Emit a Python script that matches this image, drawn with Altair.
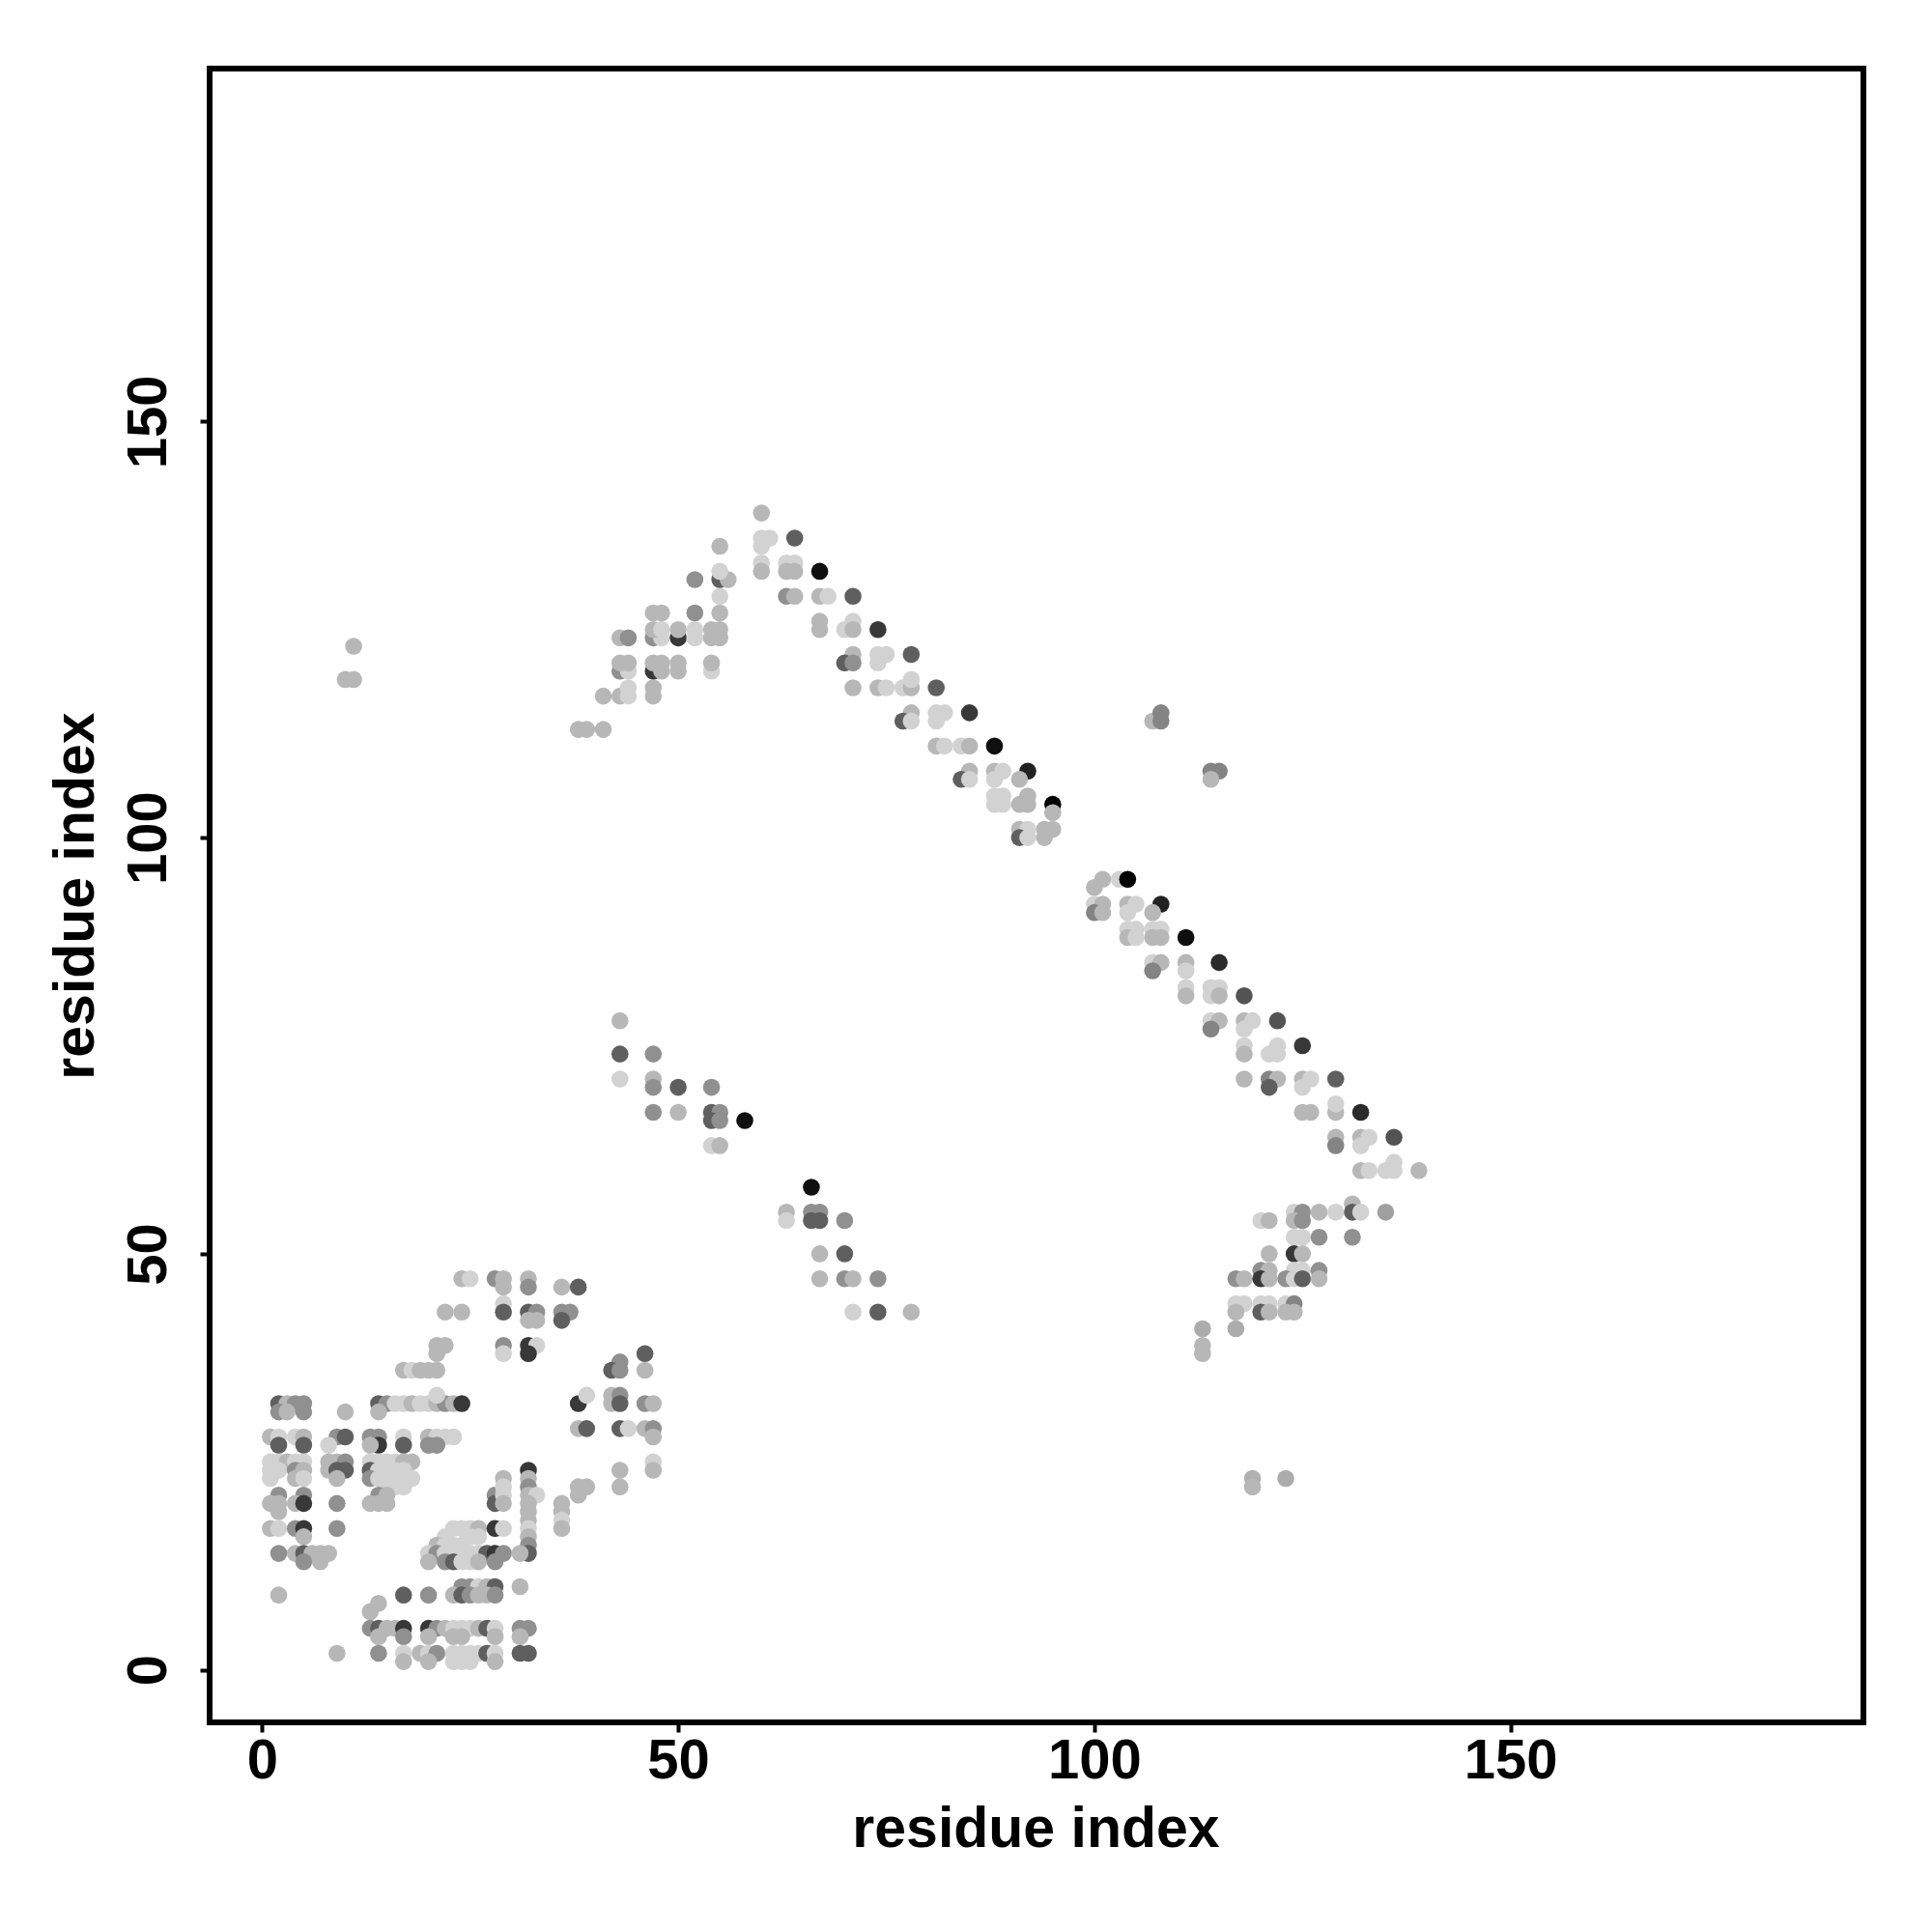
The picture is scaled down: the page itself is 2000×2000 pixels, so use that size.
import altair as alt
import pandas as pd

# contact map: (residue i, residue j, contact score)
block_n_term_a = [
    (2,32,.54),(3,32,.15),(4,32,.32),(5,32,.32),(14,32,.54),(15,32,.32),(16,32,.04),(17,32,.04),
    (18,32,.15),(19,32,.04),(20,32,.04),(21,32,.15),(22,32,.32),(23,32,.15),(24,32,.73),(21,33,.04),
    (2,31,.32),(3,31,.15),(5,31,.32),(10,31,.15),(14,31,.15),
    (1,28,.15),(2,28,.04),(4,28,.04),(5,28,.15),(9,28,.32),(10,28,.54),(13,28,.32),(14,28,.32),
    (17,28,.04),(20,28,.15),(21,28,.04),(22,28,.04),(23,28,.04),
    (2,27,.54),(5,27,.54),(8,27,.04),(14,27,.73),(13,27,.15),(17,27,.54),(20,27,.32),(21,27,.32),
    (1,25,.04),(2,25,.04),(3,25,.15),(4,25,.04),(5,25,.04),(8,25,.15),(9,25,.15),(10,25,.32),
    (13,25,.04),(14,25,.04),(15,25,.04),(16,25,.04),(17,25,.15),(18,25,.15),
    (1,24,.04),(2,24,.04),(4,24,.32),(5,24,.15),(8,24,.15),(9,24,.54),(10,24,.54),(13,24,.54),
    (14,24,.04),(15,24,.04),(16,24,.04),(17,24,.04),
    (1,23,.04),(4,23,.15),(5,23,.04),(9,23,.15),(13,23,.32),(14,23,.04),(15,23,.04),(16,23,.04),
    (17,23,.04),(18,23,.04),(15,22,.04),(16,22,.04),(17,22,.04),
    (2,21,.32),(5,21,.32),(14,21,.32),(15,21,.15),
    (1,20,.15),(2,20,.15),(4,20,.15),(5,20,.73),(9,20,.32),(13,20,.15),(14,20,.15),(15,20,.15),
    (2,19,.15),(1,17,.15),(2,17,.04),(4,17,.32),(5,17,.73),(9,17,.32),(5,16,.15),
    (2,14,.32),(4,14,.15),(5,14,.54),(6,14,.15),(7,14,.15),(8,14,.15),(5,13,.32),(7,13,.15),
    (2,9,.15),
]

block_n_term_b = [
    (28,21,.32),(28,20,.54),(29,23,.15),(29,22,.04),(29,21,.04),(29,20,.15),
    (32,24,.73),(32,23,.15),(32,22,.32),(32,21,.15),(33,21,.04),(32,20,.15),(32,19,.15),
    (32,18,.15),(32,17,.04),(32,16,.15),(32,15,.32),(32,14,.54),
    (36,20,.15),(36,19,.15),(36,18,.04),(36,17,.15),(38,21,.15),(38,22,.15),(39,22,.15),
    (22,16,.04),(23,17,.04),(24,17,.04),(25,17,.04),(26,17,.15),(28,17,.73),(29,17,.04),
    (21,15,.15),(22,15,.04),(23,15,.04),(24,15,.04),(25,16,.04),(26,16,.04),
    (20,14,.04),(21,14,.32),(22,14,.04),(23,14,.04),(24,14,.04),(25,14,.04),(26,14,.04),
    (27,14,.54),(28,14,.73),(29,14,.32),(31,14,.15),
    (20,13,.15),(22,13,.32),(23,13,.54),(24,13,.04),(25,13,.04),(26,13,.15),(28,13,.32),
    (24,10,.32),(25,10,.32),(26,10,.04),(27,10,.15),(28,10,.54),(31,10,.15),
    (17,9,.54),(20,9,.32),(23,9,.15),(24,9,.54),(25,9,.32),(26,9,.15),(27,9,.15),(28,9,.32),
    (13,7,.15),(14,8,.15),
    (13,5,.32),(14,5,.54),(15,5,.15),(16,5,.15),(17,5,.73),(20,5,.73),(21,5,.32),(22,5,.15),
    (23,5,.04),(24,5,.04),(25,5,.04),(26,5,.15),(27,5,.54),(28,5,.04),(31,5,.32),(32,5,.32),
    (14,4,.15),(17,4,.32),(20,4,.15),(23,4,.15),(24,4,.15),(28,4,.15),(31,4,.15),
    (9,2,.15),(14,2,.32),(17,2,.04),(19,2,.15),(20,2,.04),(21,2,.32),(23,2,.04),(24,2,.04),
    (25,2,.04),(26,2,.04),(27,2,.54),(28,2,.04),(31,2,.54),(32,2,.54),
    (17,1,.15),(20,1,.15),(23,1,.04),(24,1,.04),(25,1,.04),(28,1,.15),
]

block_n_term_c = [
    (24,47,.15),(25,47,.04),(28,47,.32),(29,47,.15),(32,47,.15),
    (29,46,.15),(32,46,.32),(36,46,.15),(38,46,.54),(29,44,.04),
    (22,43,.15),(24,43,.15),(29,43,.54),(32,43,.54),(33,43,.32),(36,43,.32),(37,43,.32),
    (32,42,.15),(33,42,.15),(36,42,.54),
    (21,39,.15),(22,39,.15),(29,39,.32),(32,39,.73),(33,39,.04),
    (21,38,.15),(29,38,.04),(32,38,.73),
    (17,36,.15),(18,36,.04),(19,36,.15),(20,36,.15),(21,36,.15),
    (46,38,.54),(43,37,.32),(42,36,.54),(43,36,.32),(46,36,.15),
    (38,32,.73),(39,33,.04),(42,33,.15),(42,32,.15),(43,33,.32),(43,32,.54),(46,32,.32),(47,32,.15),
    (38,29,.15),(39,29,.54),(43,29,.54),(44,29,.04),(46,29,.15),(47,29,.32),(47,28,.15),
    (47,25,.04),(43,24,.15),(47,24,.15),(43,22,.15),
]

block_middle = [
    (43,78,.15),(43,74,.54),(47,74,.32),(43,71,.04),(47,71,.15),
    (47,70,.32),(50,70,.54),(54,70,.32),
    (47,67,.32),(50,67,.15),(54,67,.54),(55,67,.32),(54,66,.54),(55,66,.32),(58,66,.95),
    (54,63,.04),(55,63,.15),
    (66,58,.95),(63,55,.15),(66,55,.32),(67,55,.32),(63,54,.04),(66,54,.54),(67,54,.54),(70,54,.32),
    (67,50,.15),(70,50,.54),(67,47,.15),(70,47,.32),(71,47,.15),(74,47,.32),
    (71,43,.04),(74,43,.54),(78,43,.15),
]

block_upper_arm = [
    (38,113,.15),(39,113,.15),(41,113,.15),
    (41,117,.15),(43,117,.15),(44,117,.04),(47,117,.15),(44,118,.04),(47,118,.15),
    (43,120,.32),(44,120,.04),(47,120,.73),(48,120,.15),(50,120,.15),(54,120,.04),
    (43,121,.15),(44,121,.15),(47,121,.15),(48,121,.15),(50,121,.15),(54,121,.15),
    (43,124,.15),(44,124,.32),(47,124,.32),(48,124,.04),(50,124,.73),(52,124,.04),(54,124,.15),(55,124,.15),
    (47,125,.15),(48,125,.04),(50,125,.15),(52,125,.04),(54,125,.15),(55,125,.15),
    (47,127,.15),(48,127,.15),(52,127,.32),(55,127,.15),(55,129,.04),
    (52,131,.32),(55,131,.54),(56,131,.15),(55,132,.04),(55,135,.15),
    (60,139,.15),(60,136,.04),(61,136,.04),(64,136,.54),(60,135,.04),
    (60,133,.04),(63,133,.04),(64,133,.04),(60,132,.15),(63,132,.15),(64,132,.15),
    (11,123,.15),(10,119,.15),(11,119,.15),
]

block_diag_upper = [
    (67,132,.95),
    (63,129,.32),(64,129,.15),(67,129,.15),(68,129,.04),(71,129,.54),
    (67,126,.15),(71,126,.04),(67,125,.15),(70,125,.04),(71,125,.15),(74,125,.73),
    (71,122,.15),(74,122,.04),(75,122,.04),(78,122,.54),(70,121,.54),(71,121,.32),(74,121,.04),
    (71,118,.15),(74,118,.15),(75,118,.04),(77,118,.04),(78,118,.15),(81,118,.54),(78,119,.04),
    (78,115,.15),(81,115,.04),(82,115,.04),(85,115,.73),(77,114,.54),(78,114,.04),(81,114,.04),
    (81,111,.15),(82,111,.04),(84,111,.04),(85,111,.15),(88,111,.95),
    (85,108,.15),(88,108,.15),(89,108,.04),(92,108,.85),(84,107,.54),(85,107,.04),(88,107,.04),(91,107,.15),
    (88,105,.04),(89,105,.04),(92,105,.15),
    (88,104,.04),(89,104,.04),(91,104,.15),(92,104,.15),(95,104,1.0),(95,103,.15),
    (91,101,.15),(92,101,.04),(94,101,.15),(95,101,.15),(91,100,.54),(92,100,.04),(94,100,.15),
    (107,114,.15),(108,115,.37),(108,114,.37),(114,108,.37),(115,108,.37),(114,107,.15),
]

block_diag_lower = [
    (101,95,.15),(103,95,.04),(104,95,1.0),(100,94,.15),
    (100,92,.04),(101,92,.15),(104,92,.15),(105,92,.04),(108,92,.85),
    (100,91,.37),(101,91,.15),(104,91,.04),(107,91,.15),
    (104,89,.04),(105,89,.04),(107,89,.04),(108,89,.04),
    (104,88,.15),(105,88,.04),(107,88,.15),(108,88,.15),(111,88,.95),
    (107,85,.04),(108,85,.15),(111,85,.15),(115,85,.8),(107,84,.37),(111,84,.04),
    (111,82,.04),(114,82,.04),(115,82,.04),(111,81,.15),(114,81,.04),(115,81,.15),(118,81,.6),
    (114,78,.04),(115,78,.15),(118,78,.15),(119,78,.04),(122,78,.6),(114,77,.37),(118,77,.04),
    (118,75,.04),(122,75,.04),(125,75,.73),(118,74,.15),(121,74,.04),(122,74,.04),
    (118,71,.15),(121,71,.37),(122,71,.15),(125,71,.15),(126,71,.04),(129,71,.54),
    (121,70,.54),(125,70,.04),
    (125,67,.15),(126,67,.15),(129,67,.15),(132,67,.8),(129,68,.04),
    (129,64,.15),(132,64,.15),(133,64,.04),(136,64,.6),(129,63,.37),(132,63,.04),
    (132,60,.15),(133,60,.04),(135,60,.04),(136,60,.04),(139,60,.15),(136,61,.04),
]

block_c_term = [
    (131,56,.15),
    (124,55,.04),(125,55,.32),(127,55,.15),(129,55,.04),(131,55,.54),(132,55,.04),(135,55,.25),
    (120,54,.04),(121,54,.15),(124,54,.15),(125,54,.32),
    (124,52,.04),(125,52,.04),(127,52,.32),(131,52,.32),
    (121,50,.15),(124,50,.73),(125,50,.15),
    (120,48,.32),(121,48,.15),(124,48,.04),(125,48,.04),(127,48,.32),
    (117,47,.32),(118,47,.15),(120,47,.73),(121,47,.15),(123,47,.32),(124,47,.04),(125,47,.54),(127,47,.15),
    (117,44,.04),(118,44,.04),(120,44,.04),(121,44,.04),(123,44,.04),(124,44,.37),
    (117,43,.15),(120,43,.54),(121,43,.15),(123,43,.15),(124,43,.15),
    (113,41,.2),(117,41,.2),(113,39,.15),(113,38,.15),
    (119,23,.18),(123,23,.2),(119,22,.15),
]

blocks = [block_n_term_a, block_n_term_b, block_n_term_c, block_middle,
          block_upper_arm, block_diag_upper, block_diag_lower, block_c_term]

rows = []
for b in blocks:
    for i, j, s in b:
        rows.append({"i": i, "j": j, "score": s})
df = pd.DataFrame(rows)

axis_ticks = [0, 50, 100, 150]
dom = [-6.3, 192.4]
FONT = "Liberation Sans"

chart = alt.Chart(df).mark_circle(size=310, opacity=1).encode(
    x=alt.X("i:Q", scale=alt.Scale(domain=dom, nice=False, zero=False),
            axis=alt.Axis(values=axis_ticks, title="residue index", grid=False, domain=False,
                          tickSize=10, tickWidth=4, tickColor="black",
                          labelFont=FONT, labelFontSize=58, labelFontWeight="bold", labelColor="black",
                          labelBaseline="alphabetic", labelPadding=47,
                          titleFont=FONT, titleFontSize=59, titleFontWeight="bold", titleColor="black",
                          titleBaseline="alphabetic", titleY=128, titleX=855)),
    y=alt.Y("j:Q", scale=alt.Scale(domain=dom, nice=False, zero=False),
            axis=alt.Axis(values=axis_ticks, title="residue index", grid=False, domain=False,
                          tickSize=10, tickWidth=4, tickColor="black",
                          labelFont=FONT, labelFontSize=58, labelFontWeight="bold", labelColor="black",
                          labelAngle=270, labelAlign="center", labelBaseline="alphabetic", labelPadding=36,
                          titleFont=FONT, titleFontSize=59, titleFontWeight="bold", titleColor="black",
                          titleAngle=270, titleBaseline="alphabetic", titleX=-121, titleY=856)),
    color=alt.Color("score:Q", scale=alt.Scale(domain=[0, 1], range=["#dcdcdc", "#000000"]), legend=None),
).properties(
    width=1712, height=1712,
    background="white",
    autosize=alt.AutoSizeParams(type="none"),
    padding={"left": 209, "top": 63, "right": 63, "bottom": 209},
).configure_view(stroke="black", strokeWidth=6)

chart.save("out.html", embed_options={"renderer": "svg", "actions": False})
